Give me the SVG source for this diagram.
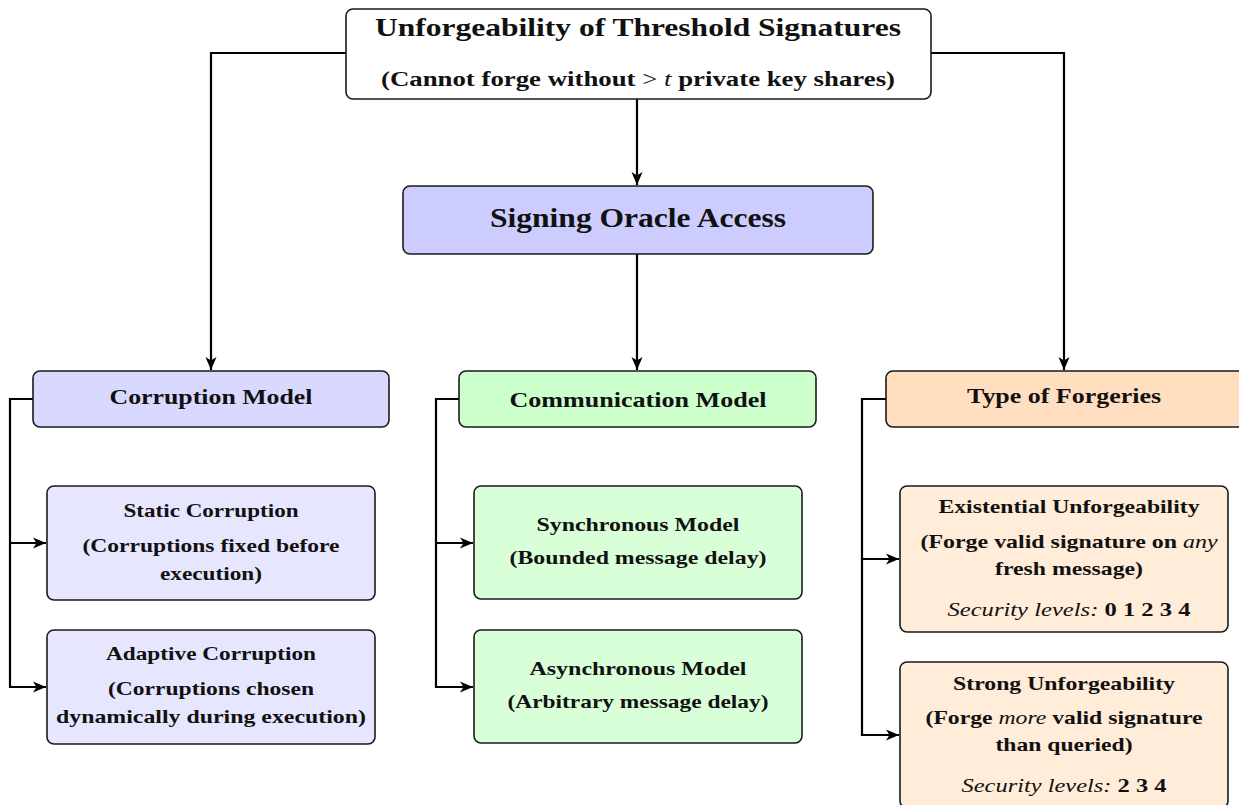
<svg xmlns="http://www.w3.org/2000/svg" width="1239" height="805" viewBox="0 0 1239 805">
<defs>
<marker id="arr" markerUnits="userSpaceOnUse" markerWidth="14" markerHeight="12" refX="13" refY="6" orient="auto">
<path d="M0,0.5 L13,6 L0,11.5 L3.5,6 z" fill="#000"/>
</marker>
<style>
.box{stroke:#1a1a1a;stroke-width:1.6}
.t{font-family:"Liberation Serif","Times New Roman",serif;font-weight:bold;fill:#111;text-anchor:middle}
.n{font-weight:normal}
.i{font-style:italic}
.c{fill:none;stroke:#000;stroke-width:2.2}
</style>
</defs>
<g id="connectors">
<path class="c" d="M346,53 H211 V370" marker-end="url(#arr)"/>
<path class="c" d="M931,53 H1064 V370" marker-end="url(#arr)"/>
<path class="c" d="M637,99 V185" marker-end="url(#arr)"/>
<path class="c" d="M637,254 V370" marker-end="url(#arr)"/>
<path class="c" d="M33,399 H10 V687 H46" marker-end="url(#arr)"/>
<path class="c" d="M10,543 H46" marker-end="url(#arr)"/>
<path class="c" d="M459,399 H436 V687 H473" marker-end="url(#arr)"/>
<path class="c" d="M436,543 H473" marker-end="url(#arr)"/>
<path class="c" d="M886,399 H862 V735 H899" marker-end="url(#arr)"/>
<path class="c" d="M862,559 H899" marker-end="url(#arr)"/>
</g>
<g id="root">
<rect class="box" x="346" y="9" width="585" height="90" rx="7" fill="#fff"/>
<text class="t" x="638" y="36" font-size="25" textLength="526" lengthAdjust="spacingAndGlyphs">Unforgeability of Threshold Signatures</text>
<text class="t" x="638" y="86" font-size="20" textLength="514" lengthAdjust="spacingAndGlyphs">(Cannot forge without <tspan class="n">&gt;</tspan> <tspan class="n i">t</tspan> private key shares)</text>
</g>
<g id="oracle">
<rect class="box" x="403" y="186" width="470" height="68" rx="7" fill="#ccccff"/>
<text class="t" x="638" y="227" font-size="27" textLength="296" lengthAdjust="spacingAndGlyphs">Signing Oracle Access</text>
</g>
<g id="corruption">
<rect class="box" x="33" y="371" width="356" height="56" rx="7" fill="#d9d9ff"/>
<text class="t" x="211" y="404" font-size="21" textLength="203" lengthAdjust="spacingAndGlyphs">Corruption Model</text>
</g>
<g id="communication">
<rect class="box" x="459" y="371" width="357" height="56" rx="7" fill="#ccffcc"/>
<text class="t" x="638" y="407" font-size="21" textLength="257" lengthAdjust="spacingAndGlyphs">Communication Model</text>
</g>
<g id="forgeries">
<rect class="box" x="886" y="371" width="360" height="56" rx="7" fill="#ffdfbf"/>
<text class="t" x="1064" y="403" font-size="21" textLength="194" lengthAdjust="spacingAndGlyphs">Type of Forgeries</text>
</g>
<g id="static">
<rect class="box" x="47" y="486" width="328" height="114" rx="7" fill="#e6e6ff"/>
<text class="t" x="211" y="517" font-size="19" textLength="175" lengthAdjust="spacingAndGlyphs">Static Corruption</text>
<text class="t" x="211" y="552" font-size="19" textLength="257" lengthAdjust="spacingAndGlyphs">(Corruptions fixed before</text>
<text class="t" x="211" y="580" font-size="19" textLength="102" lengthAdjust="spacingAndGlyphs">execution)</text>
</g>
<g id="adaptive">
<rect class="box" x="47" y="630" width="328" height="114" rx="7" fill="#e6e6ff"/>
<text class="t" x="211" y="660" font-size="19" textLength="210" lengthAdjust="spacingAndGlyphs">Adaptive Corruption</text>
<text class="t" x="211" y="695" font-size="19" textLength="206" lengthAdjust="spacingAndGlyphs">(Corruptions chosen</text>
<text class="t" x="211" y="723" font-size="19" textLength="310" lengthAdjust="spacingAndGlyphs">dynamically during execution)</text>
</g>
<g id="sync">
<rect class="box" x="474" y="486" width="328" height="113" rx="7" fill="#d9ffd9"/>
<text class="t" x="638" y="531" font-size="19" textLength="203" lengthAdjust="spacingAndGlyphs">Synchronous Model</text>
<text class="t" x="638" y="564" font-size="19" textLength="257" lengthAdjust="spacingAndGlyphs">(Bounded message delay)</text>
</g>
<g id="async">
<rect class="box" x="474" y="630" width="328" height="113" rx="7" fill="#d9ffd9"/>
<text class="t" x="638" y="675" font-size="19" textLength="217" lengthAdjust="spacingAndGlyphs">Asynchronous Model</text>
<text class="t" x="638" y="708" font-size="19" textLength="261" lengthAdjust="spacingAndGlyphs">(Arbitrary message delay)</text>
</g>
<g id="existential">
<rect class="box" x="900" y="486" width="328" height="146" rx="7" fill="#ffecd9"/>
<text class="t" x="1069" y="513" font-size="19" textLength="261" lengthAdjust="spacingAndGlyphs">Existential Unforgeability</text>
<text class="t" x="1069" y="548" font-size="19" textLength="297" lengthAdjust="spacingAndGlyphs">(Forge valid signature on <tspan class="n i">any</tspan></text>
<text class="t" x="1069" y="575" font-size="19" textLength="148" lengthAdjust="spacingAndGlyphs">fresh message)</text>
<text class="t" x="1069" y="616" font-size="19" textLength="243" lengthAdjust="spacingAndGlyphs"><tspan class="n i">Security levels:</tspan> 0 1 2 3 4</text>
</g>
<g id="strong">
<rect class="box" x="900" y="662" width="328" height="146" rx="7" fill="#ffecd9"/>
<text class="t" x="1064" y="690" font-size="19" textLength="222" lengthAdjust="spacingAndGlyphs">Strong Unforgeability</text>
<text class="t" x="1064" y="724" font-size="19" textLength="277" lengthAdjust="spacingAndGlyphs">(Forge <tspan class="n i">more</tspan> valid signature</text>
<text class="t" x="1064" y="751" font-size="19" textLength="137" lengthAdjust="spacingAndGlyphs">than queried)</text>
<text class="t" x="1064" y="792" font-size="19" textLength="205" lengthAdjust="spacingAndGlyphs"><tspan class="n i">Security levels:</tspan> 2 3 4</text>
</g>
</svg>
